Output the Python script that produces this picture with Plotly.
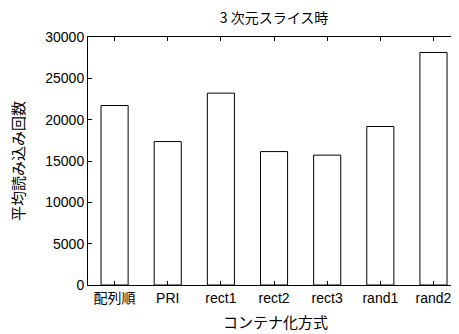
import plotly.graph_objects as go

categories = ["配列順", "PRI", "rect1", "rect2", "rect3", "rand1", "rand2"]
values = [21710, 17350, 23210, 16140, 15710, 19170, 28130]
y_ticks = [0, 5000, 10000, 15000, 20000, 25000, 30000]

font_lat = "Liberation Sans, Noto Sans CJK JP, sans-serif"
font_cjk = "Noto Sans CJK JP, sans-serif"

# page has an 8px body margin; figure coordinates are page coordinates - 8
OFF = 8
W, H = 459 - OFF, 334 - OFF
L, R, T = 88 - OFF, 0, 37 - OFF
B = H - (285 - OFF)
PW, PH = W - L - R, H - T - B

fig = go.Figure()
fig.add_trace(go.Bar(
    x=list(range(len(categories))), y=values,
    width=0.51,
    marker=dict(color="white", line=dict(color="black", width=1)),
))

fig.update_layout(
    width=W, height=H,
    margin=dict(l=L, r=R, t=T, b=B, autoexpand=False),
    paper_bgcolor="white", plot_bgcolor="white",
    showlegend=False,
    title=dict(text="3 次元スライス時", x=(274 - OFF) / W, xanchor="center",
               y=1 - 10 / H, yanchor="middle",
               font=dict(family=font_cjk, size=14, color="black")),
    font=dict(family=font_lat, size=14, color="black"),
    annotations=[
        dict(text="コンテナ化方式", xref="paper", yref="paper",
             x=(275 - 88) / PW, y=-(321 - 285) / PH, xanchor="center", yanchor="middle",
             showarrow=False, font=dict(family=font_cjk, size=15)),
        dict(text="平均読み込み回数", xref="paper", yref="paper",
             x=-(88 - 17) / PW, y=(285 - 161) / PH, xanchor="center", yanchor="middle",
             textangle=-90, showarrow=False, font=dict(family=font_cjk, size=15)),
    ],
)
fig.update_xaxes(
    range=[-0.5, 6.48], automargin=False,
    tickmode="array", tickvals=list(range(len(categories))), ticktext=categories,
    ticks="inside", ticklen=4, tickcolor="black", mirror="ticks",
    showline=True, linecolor="black", linewidth=1,
    showgrid=False, zeroline=False,
    tickfont=dict(family=font_lat, size=14),
)
fig.update_yaxes(
    range=[0, 30000], automargin=False,
    tickmode="array", tickvals=y_ticks, ticktext=[str(v) for v in y_ticks],
    ticks="inside", ticklen=4, tickcolor="black", mirror="ticks",
    showline=True, linecolor="black", linewidth=1,
    showgrid=False, zeroline=False,
    tickfont=dict(family=font_lat, size=14),
)

fig.write_html("out.html")
